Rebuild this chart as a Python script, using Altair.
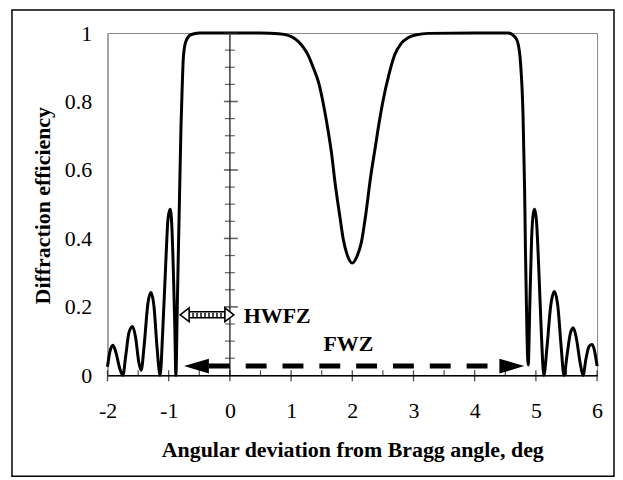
import altair as alt
import pandas as pd

# ---------------- data ----------------
curve_x = [-2.00, -1.96, -1.91, -1.86, -1.80, -1.75, -1.70, -1.65, -1.59, -1.54,
           -1.49, -1.45, -1.40, -1.34, -1.29, -1.24, -1.19, -1.14, -1.10, -1.05,
           -1.01, -0.976, -0.95, -0.92, -0.90, -0.883, -0.86, -0.84, -0.82, -0.80,
           -0.78, -0.76, -0.72, -0.64, -0.50, 0.00, 0.50, 0.80, 0.95, 1.05,
           1.12, 1.20, 1.28, 1.36, 1.45, 1.53, 1.60, 1.66, 1.72, 1.80,
           1.85, 1.92, 2.00, 2.07, 2.15, 2.22, 2.30, 2.37, 2.44, 2.50,
           2.60, 2.69, 2.80, 2.91, 3.05, 3.24, 4.00, 4.55, 4.65, 4.70,
           4.75, 4.79, 4.815, 4.83, 4.85, 4.865, 4.875, 4.90, 4.93, 4.96,
           4.98, 5.01, 5.05, 5.09, 5.13, 5.18, 5.24, 5.30, 5.36, 5.41,
           5.46, 5.51, 5.56, 5.61, 5.66, 5.72, 5.77, 5.82, 5.87, 5.92,
           5.96, 6.00]
curve_y = [0.025, 0.070, 0.088, 0.065, 0.020, 0.000, 0.060, 0.125, 0.143, 0.110,
           0.040, 0.015, 0.090, 0.210, 0.242, 0.200, 0.080, 0.000, 0.120, 0.320,
           0.460, 0.485, 0.440, 0.280, 0.140, 0.000, 0.200, 0.380, 0.550, 0.720,
           0.840, 0.930, 0.975, 0.995, 1.000, 1.000, 1.000, 0.998, 0.993, 0.985,
           0.975, 0.958, 0.935, 0.900, 0.855, 0.790, 0.720, 0.650, 0.560, 0.460,
           0.400, 0.350, 0.328, 0.345, 0.390, 0.470, 0.580, 0.660, 0.740, 0.800,
           0.880, 0.935, 0.970, 0.986, 0.995, 0.999, 1.000, 1.000, 0.990, 0.975,
           0.910, 0.760, 0.550, 0.360, 0.160, 0.050, 0.030, 0.200, 0.400, 0.475,
           0.485, 0.450, 0.300, 0.120, 0.000, 0.080, 0.200, 0.245, 0.200, 0.090,
           0.000, 0.060, 0.120, 0.139, 0.110, 0.040, 0.000, 0.050, 0.085, 0.090,
           0.070, 0.027]

x_tick_values = [-2, -1, 0, 1, 2, 3, 4, 5, 6]
x_minor_ticks = [-1.5, -0.5, 0.5, 1.5, 2.5, 3.5, 4.5, 5.5]
y_tick_values = [0, 0.2, 0.4, 0.6, 0.8, 1]
y_major_ticks_on_zero = [0.2, 0.4, 0.6, 0.8, 1.0]
y_minor_ticks_on_zero = [0.05, 0.10, 0.15, 0.25, 0.30, 0.35, 0.45, 0.50, 0.55,
                         0.65, 0.70, 0.75, 0.85, 0.90, 0.95]

hwfz_label = "HWFZ"
hwfz_from, hwfz_to, hwfz_level = -0.813, 0.065, 0.177
fwz_label = "FWZ"
fwz_from, fwz_to, fwz_level = -0.75, 4.81, 0.027

x_title = "Angular deviation from Bragg angle, deg"
y_title = "Diffraction efficiency"

# ---------------- chart ----------------
FONT = "Liberation Serif"
xs = alt.Scale(domain=[-2, 6], nice=False, zero=False)
ys = alt.Scale(domain=[0, 1], nice=False, zero=False)
W, H = 492, 344


def X(field="x"):
    return alt.X(f"{field}:Q", scale=xs)


def Y(field="y"):
    return alt.Y(f"{field}:Q", scale=ys)


curve_df = pd.DataFrame({"x": curve_x, "y": curve_y})

curve = alt.Chart(curve_df).mark_line(
    color="black", strokeWidth=3, interpolate="monotone"
).encode(
    x=alt.X("x:Q", scale=xs, axis=alt.Axis(
        values=x_tick_values, labelExpr="toString(datum.value)",
        ticks=False, tickSize=0, grid=False,
        domainColor="black", domainWidth=1.5,
        labelFont=FONT, labelFontSize=22, labelColor="black",
        labelBaseline="alphabetic", labelPadding=42,
        labelFlush=False, labelOverlap=False,
        title=x_title, titleFont=FONT, titleFontSize=22, titleColor="black",
        titleFontWeight="bold", titleX=246, titleY=82,
        titleAlign="center", titleBaseline="alphabetic")),
    y=alt.Y("y:Q", scale=ys, axis=alt.Axis(
        values=y_tick_values, labelExpr="toString(datum.value)",
        ticks=False, tickSize=0, grid=False,
        domainColor="#868686", domainWidth=1,
        labelFont=FONT, labelFontSize=22, labelColor="black",
        labelPadding=16, labelFlush=False, labelOverlap=False,
        title=y_title, titleFont=FONT, titleFontSize=22, titleColor="black",
        titleFontWeight="bold", titleAngle=270, titleX=-58, titleY=173,
        titleAlign="center", titleBaseline="alphabetic")),
)

# vertical axis line at x = 0 with its ticks
zero_df = pd.DataFrame({"x": [0], "y": [0], "y2": [1]})
zero_line = alt.Chart(zero_df).mark_rule(color="#3a3a3a", strokeWidth=1.5).encode(
    x=X(), y=Y(), y2="y2:Q")

ymaj_df = pd.DataFrame({"x": [0] * len(y_major_ticks_on_zero), "y": y_major_ticks_on_zero})
ymin_df = pd.DataFrame({"x": [0] * len(y_minor_ticks_on_zero), "y": y_minor_ticks_on_zero})
ymaj = alt.Chart(ymaj_df).mark_tick(orient="horizontal", size=14, thickness=1.6,
                                    color="#222", xOffset=1).encode(x=X(), y=Y())
ymin = alt.Chart(ymin_df).mark_tick(orient="horizontal", size=10, thickness=1.2,
                                    color="#222").encode(x=X(), y=Y())

# x axis ticks (major crossing, minor above)
xmaj_df = pd.DataFrame({"x": x_tick_values, "y": [0] * len(x_tick_values)})
xmin_df = pd.DataFrame({"x": x_minor_ticks, "y": [0] * len(x_minor_ticks)})
xmaj = alt.Chart(xmaj_df).mark_tick(orient="vertical", size=11, thickness=1.3,
                                    color="black", yOffset=0.5).encode(x=X(), y=Y())
xmin = alt.Chart(xmin_df).mark_tick(orient="vertical", size=5, thickness=1.2,
                                    color="black", yOffset=-2.5).encode(x=X(), y=Y())

# FWZ dashed double arrow
fwz_body_df = pd.DataFrame({"x": [fwz_from + 25 / 61.5], "x2": [fwz_to - 25 / 61.5],
                            "y": [fwz_level]})
fwz_body = alt.Chart(fwz_body_df).mark_rule(
    color="black", strokeWidth=5, strokeDash=[21, 16], strokeCap="butt").encode(
    x=X(), x2="x2:Q", y=Y())
fwz_left = alt.Chart(pd.DataFrame({"x": [fwz_from], "y": [fwz_level]})).mark_point(
    shape="M-1,0L1,-0.6L1,0.6Z", size=625, filled=True, fill="black",
    strokeWidth=0, opacity=1, xOffset=12.5).encode(x=X(), y=Y())
fwz_right = alt.Chart(pd.DataFrame({"x": [fwz_to], "y": [fwz_level]})).mark_point(
    shape="M1,0L-1,-0.6L-1,0.6Z", size=625, filled=True, fill="black",
    strokeWidth=0, opacity=1, xOffset=-12.5).encode(x=X(), y=Y())

# HWFZ hatched double arrow
hw_df = pd.DataFrame({"x": [hwfz_from + 8 / 61.5], "x2": [hwfz_to - 8 / 61.5],
                      "y": [hwfz_level]})
hw_outer = alt.Chart(hw_df).mark_rule(color="black", strokeWidth=7.5, strokeCap="butt").encode(
    x=X(), x2="x2:Q", y=Y())
hw_inner = alt.Chart(hw_df).mark_rule(color="white", strokeWidth=4.5, strokeCap="butt").encode(
    x=X(), x2="x2:Q", y=Y())
hw_hatch = alt.Chart(hw_df).mark_rule(color="#444", strokeWidth=4.5, strokeCap="butt",
                                      strokeDash=[2, 2]).encode(
    x=X(), x2="x2:Q", y=Y())
hw_left = alt.Chart(pd.DataFrame({"x": [hwfz_from], "y": [hwfz_level]})).mark_point(
    shape="M-1,0L0.29,-1L0.29,1Z", size=196, filled=True, fill="white",
    stroke="black", strokeWidth=1.6, opacity=1, xOffset=7).encode(x=X(), y=Y())
hw_right = alt.Chart(pd.DataFrame({"x": [hwfz_to], "y": [hwfz_level]})).mark_point(
    shape="M1,0L-0.29,-1L-0.29,1Z", size=196, filled=True, fill="white",
    stroke="black", strokeWidth=1.6, opacity=1, xOffset=-7).encode(x=X(), y=Y())

# labels
labels_df = pd.DataFrame({"x": [0.228, 1.528], "y": [0.154, 0.0698],
                          "t": [hwfz_label, fwz_label]})
labels = alt.Chart(labels_df).mark_text(
    font=FONT, fontSize=22, fontWeight="bold", color="black",
    align="left", baseline="alphabetic").encode(x=X(), y=Y(), text="t:N")

# outer frame
frame = alt.Chart(pd.DataFrame({"a": [0]})).mark_rect(
    fillOpacity=0, stroke="black", strokeWidth=1.5).encode(
    x=alt.value(-96), x2=alt.value(509), y=alt.value(-23.25), y2=alt.value(445.5))

chart = alt.layer(
    curve, frame, zero_line, ymin, ymaj, xmin, xmaj,
    fwz_body, fwz_left, fwz_right,
    hw_outer, hw_inner, hw_hatch, hw_left, hw_right,
    labels,
).properties(
    width=W, height=H,
    autosize=alt.AutoSizeParams(type="none"),
    padding={"left": 100, "top": 24, "right": 18, "bottom": 103},
).configure_view(stroke="#868686", strokeWidth=1)

chart.save("out.html", embed_options={"renderer": "svg", "actions": False})
